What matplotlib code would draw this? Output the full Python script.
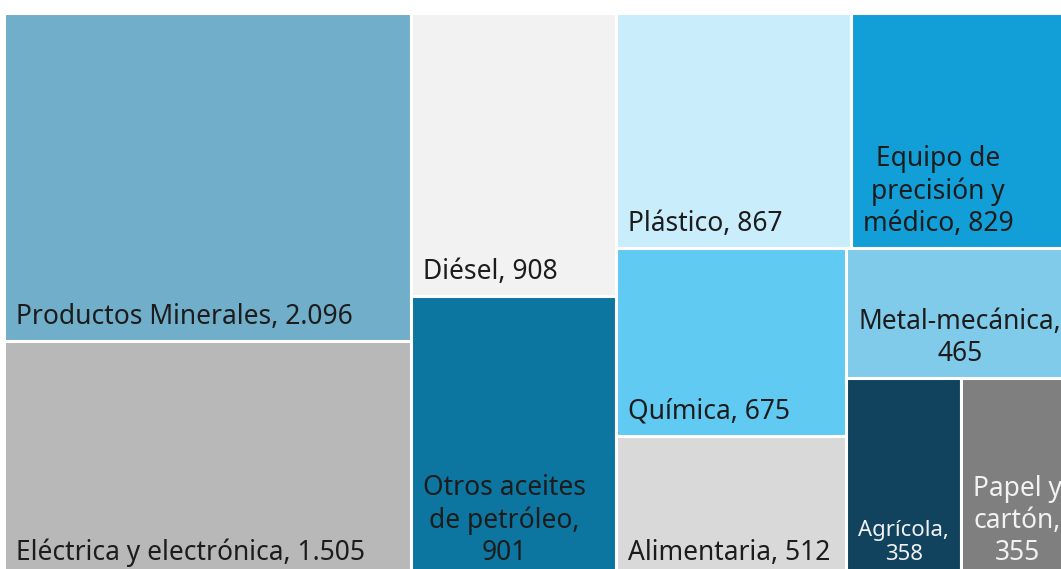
import textwrap
import matplotlib
matplotlib.use("Agg")
import matplotlib.pyplot as plt
from matplotlib.patches import Rectangle

# datos (ordenados de mayor a menor)
sectores = ["Productos Minerales", "Eléctrica y electrónica", "Diésel",
            "Otros aceites de petróleo", "Plástico", "Equipo de precisión y médico",
            "Química", "Alimentaria", "Metal-mecánica", "Agrícola", "Papel y cartón"]
valores = [2096, 1505, 908, 901, 867, 829, 675, 512, 465, 358, 355]
colores = ["#70aec9", "#b8b8b8", "#f2f2f2", "#0d76a0", "#caedfc", "#129ed6",
           "#60caf2", "#d9d9d9", "#80caea", "#12435e", "#7f7f7f"]
color_texto = ["#1c1c1c"] * 9 + ["#f2f2f2", "#f2f2f2"]


def peor(fila, lado):
    s = sum(fila)
    return max(max(lado ** 2 * r / s ** 2, s ** 2 / (lado ** 2 * r)) for r in fila)


def squarify(areas, x, y, w, h):
    # algoritmo squarified, origen arriba a la izquierda (y hacia abajo)
    rects = []
    i = 0
    while i < len(areas):
        lado = min(w, h)
        fila = [areas[i]]
        j = i + 1
        while j < len(areas) and peor(fila + [areas[j]], lado) <= peor(fila, lado):
            fila.append(areas[j])
            j += 1
        s = sum(fila)
        if w >= h:
            cw = s / h
            yy = y
            for a in fila:
                rects.append((x, yy, cw, a / cw))
                yy += a / cw
            x += cw
            w -= cw
        else:
            rh = s / w
            xx = x
            for a in fila:
                rects.append((xx, y, a / rh, rh))
                xx += a / rh
            y += rh
            h -= rh
        i = j
    return rects


W, H = 1071, 565
total = sum(valores)
areas = [v * W * H / total for v in valores]
rects = squarify(areas, 4, 12.5, W, H)

fig = plt.figure(figsize=(10.61, 5.69), dpi=100)
ax = fig.add_axes([0, 0, 1, 1])
ax.set_xlim(0, 1061)
ax.set_ylim(569, 0)
ax.axis("off")

plt.rcParams["font.family"] = ["Noto Sans", "DejaVu Sans"]
tam = 19
pad = 12
renderer = fig.canvas.get_renderer()

for (x, y, w, h), nombre, v, c, ct in zip(rects, sectores, valores, colores, color_texto):
    ax.add_patch(Rectangle((x, y), w, h, facecolor=c, edgecolor="white", linewidth=2.2))
    etiqueta = f"{nombre}, " + f"{v:,}".replace(",", ".")
    ancho = int((w - 2 * pad) / 12.5)
    texto = textwrap.fill(etiqueta, width=ancho, break_on_hyphens=False,
                          break_long_words=False)
    t = ax.text(x + pad, y + h - 17.5, texto, ha="left", va="baseline",
                multialignment="center", fontsize=tam, color=ct,
                linespacing=1.2)
    # reducir la fuente si la etiqueta no cabe en la caja
    bb = t.get_window_extent(renderer)
    if bb.width > w - 2 * pad:
        t.set_fontsize(tam * (w - 2 * pad) / bb.width)

fig.savefig("out.png", dpi=100)
